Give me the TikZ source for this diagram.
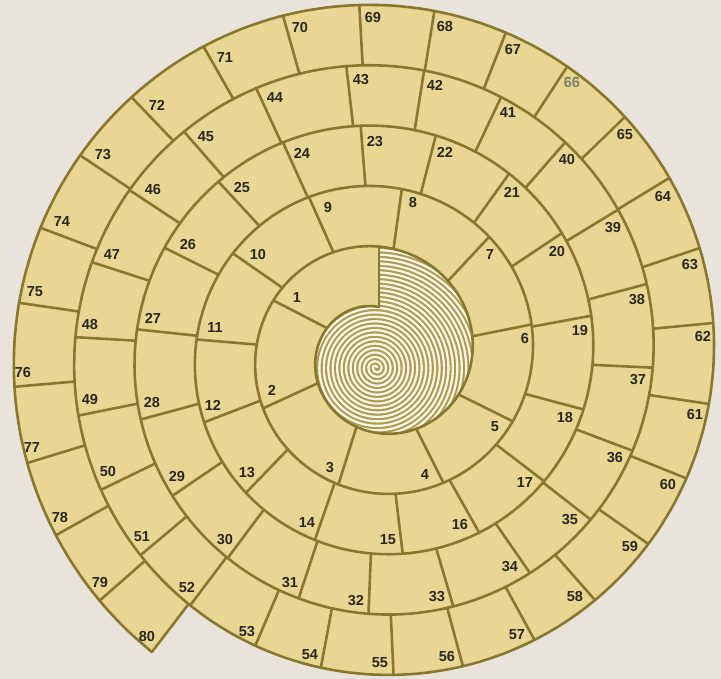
\documentclass[tikz,border=0pt]{standalone}
\usepackage{fontspec}
\setmainfont{Liberation Sans}
\definecolor{pageBack} {HTML}{E8E4DC}
\definecolor{boardFill}{HTML}{E9D692}
\definecolor{boardEdge}{HTML}{8A772E}
\definecolor{coilGap}  {HTML}{AE9A4A}
\definecolor{coilLine} {HTML}{FAF6EA}
\definecolor{numInk}   {HTML}{2B2620}

\begin{document}
\begin{tikzpicture}[x=1pt, y=1pt,
        declare function={wall(\t)=48+0.16778*\t;},
        every node/.style={font=\fontsize{14.5}{15}\selectfont\bfseries},
        rim/.style={draw=boardEdge, line width=2.6pt, line join=round, line cap=round},
        coil/.style={draw=coilLine, line width=2.3pt},
        num/.style={text=numInk, inner sep=0pt}
    ]
        % page and board outline
        \useasboundingbox[fill=pageBack] (-379,-324) rectangle (342,355);
        \fill[boardFill] plot[domain=1582.5:1942.5, samples=80, smooth, variable=\t] ({90+\t}:{wall(\t)}) -- cycle;
        % centre coil
        \begin{scope}
            \clip plot[domain=0:360, samples=60, smooth, variable=\t] ({90+\t}:{wall(\t)}) -- cycle;
            \fill[coilGap] (-140,-140) rectangle (140,140);
            \draw[coil] (-1.775,-13) \foreach \j in {1,...,30} {
                arc[start angle=0, end angle=180, radius={(2*\j-1)*2.225}]
                arc[start angle=180, end angle=360, radius={2*\j*2.225}] };
        \end{scope}
        % spiral walls
        \draw[rim] plot[domain=0:1942.5, samples=390, smooth, variable=\t] ({90+\t}:{wall(\t)});
        \draw[rim] (90:48) -- (90:108.4);
        % squares and their numbers
        \foreach \k/\x/\y in {1/297/298, 2/272/390, 3/330/468, 4/425/475, 5/495/427, 6/525/339,
                7/490/255, 8/413/203, 9/328/208, 10/258/255, 11/215/328, 12/213/405, 13/247/473,
                14/307/523, 15/388/540, 16/460/525, 17/525/483, 18/565/418, 19/580/331, 20/557/252,
                21/512/192, 22/445/152, 23/375/142, 24/302/153, 25/242/188, 26/188/245, 27/153/318,
                28/152/403, 29/177/477, 30/225/540, 31/290/583, 32/356/601, 33/437/597, 34/510/567,
                35/570/520, 36/615/458, 37/638/380, 38/637/300, 39/613/228, 40/567/160, 41/508/113,
                42/435/85, 43/361/80, 44/275/98, 45/206/137, 46/153/190, 47/112/255, 48/90/325,
                49/90/400, 50/108/472, 51/142/537, 52/187/588, 53/247/632, 54/310/655, 55/380/663,
                56/447/657, 57/517/635, 58/575/597, 59/630/547, 60/668/485, 61/695/415, 62/703/337,
                63/690/265, 64/663/197, 65/625/135, 66/572/83, 67/513/50, 68/445/27, 69/373/18,
                70/300/28, 71/225/58, 72/157/105, 73/103/155, 74/62/222, 75/35/292, 76/23/373,
                77/32/448, 78/60/518, 79/100/583, 80/147/637} {
            \pgfmathsetmacro\dx{\x-379}
            \pgfmathsetmacro\dy{355-\y}
            \pgfmathtruncatemacro\turn{(\k>8)+(\k>22)+(\k>42)+(\k>68)}
            \pgfmathsetmacro\tk{mod(atan2(\dy,\dx)+630,360)+360*\turn+745/veclen(\dx,\dy)}
            \draw[rim] ({90+\tk}:{wall(\tk)}) -- ({90+\tk}:{wall(\tk)+60.4});
            \node[num] (c\k) at (\dx,\dy) {\k};
        }
        \node[num, fill=boardFill, text=gray!75!boardEdge] at (c66) {66};
    \end{tikzpicture}
\end{document}
